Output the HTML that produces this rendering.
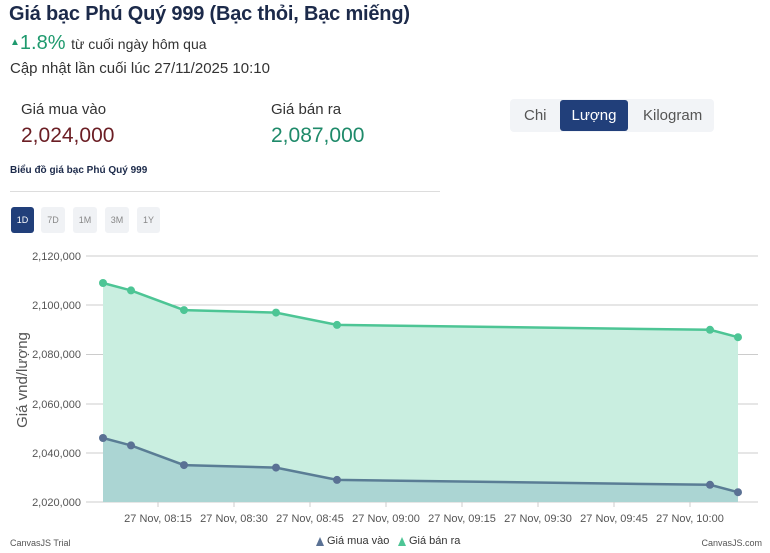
<!DOCTYPE html>
<html><head><meta charset="utf-8"><style>
body{margin:0;width:770px;height:553px;background:#fff;font-family:"Liberation Sans","Noto Sans CJK JP",sans-serif;position:relative;overflow:hidden}
.a{position:absolute;white-space:nowrap}
</style></head><body>
<div class="a" style="left:9px;top:3px;font-size:20px;color:#1c2a4a;font-weight:bold;letter-spacing:-0.2px">Giá bạc Phú Quý 999 (Bạc thỏi, Bạc miếng)</div>
<div class="a" style="left:10px;top:32px;font-size:20px;color:#1f9a6e"><span style="font-size:10px;vertical-align:4px">▲</span>1.8% <span style="font-size:14px;color:#333">từ cuối ngày hôm qua</span></div>
<div class="a" style="left:10px;top:60px;font-size:15px;color:#333">Cập nhật lần cuối lúc 27/11/2025 10:10</div>
<div class="a" style="left:21px;top:101px;font-size:15px;color:#333">Giá mua vào</div>
<div class="a" style="left:21px;top:124px;font-size:21px;color:#6b1e24">2,024,000</div>
<div class="a" style="left:271px;top:101px;font-size:15px;color:#333">Giá bán ra</div>
<div class="a" style="left:271px;top:124px;font-size:21px;color:#1f8a6a">2,087,000</div>
<div class="a" style="left:510px;top:99px;width:204px;height:33px;background:#f2f4f7;border-radius:4px"></div>
<div class="a" style="left:524px;top:107px;font-size:15px;color:#555">Chi</div>
<div class="a" style="left:560px;top:100px;width:68px;height:31px;background:#213f7a;border-radius:3px;color:#fff;font-size:15px;text-align:center;line-height:31px">Lượng</div>
<div class="a" style="left:643px;top:107px;font-size:15px;color:#555">Kilogram</div>
<div class="a" style="left:10px;top:165px;font-size:10px;color:#1c2a4a;font-weight:bold">Biểu đồ giá bạc Phú Quý 999</div>
<div class="a" style="left:10px;top:191px;width:430px;height:1px;background:#ddd"></div>
<div class="a" style="left:11px;top:207px;width:23px;height:26px;background:#213f7a;border-radius:3px;color:#fff;font-size:9px;text-align:center;line-height:26px">1D</div>
<div class="a" style="left:41px;top:207px;width:24px;height:26px;background:#f0f2f5;border-radius:3px;color:#888;font-size:9px;text-align:center;line-height:26px">7D</div>
<div class="a" style="left:73px;top:207px;width:24px;height:26px;background:#f0f2f5;border-radius:3px;color:#888;font-size:9px;text-align:center;line-height:26px">1M</div>
<div class="a" style="left:105px;top:207px;width:24px;height:26px;background:#f0f2f5;border-radius:3px;color:#888;font-size:9px;text-align:center;line-height:26px">3M</div>
<div class="a" style="left:137px;top:207px;width:23px;height:26px;background:#f0f2f5;border-radius:3px;color:#888;font-size:9px;text-align:center;line-height:26px">1Y</div>
<svg class="a" style="left:0;top:0" width="770" height="553" font-family="Liberation Sans Narrow, Liberation Sans, sans-serif">
<g stroke="#ccc" stroke-width="1">
<line x1="86" x2="758" y1="256" y2="256"/><line x1="86" x2="758" y1="305" y2="305"/><line x1="86" x2="758" y1="354.5" y2="354.5"/><line x1="86" x2="758" y1="404" y2="404"/><line x1="86" x2="758" y1="453" y2="453"/><line x1="86" x2="758" y1="502" y2="502"/>
</g>
<g font-size="11" fill="#555" text-anchor="end">
<text x="81" y="260">2,120,000</text><text x="81" y="309">2,100,000</text><text x="81" y="358">2,080,000</text><text x="81" y="408">2,060,000</text><text x="81" y="457">2,040,000</text><text x="81" y="506">2,020,000</text>
</g>
<text transform="translate(27,380) rotate(-90)" text-anchor="middle" font-size="15" fill="#555" font-family="Liberation Sans, sans-serif">Giá vnd/lượng</text>
<polygon points="103,283 131,290.4 184,310.1 276,312.6 337,324.9 710,329.8 738,337.2 738,502 103,502" fill="#c9eee0"/>
<polygon points="103,438 131,445.4 184,465.1 276,467.6 337,479.9 710,484.8 738,492.2 738,502 103,502" fill="#abd5d3"/>
<polyline points="103,283 131,290.4 184,310.1 276,312.6 337,324.9 710,329.8 738,337.2" fill="none" stroke="#4dc595" stroke-width="2.5"/>
<polyline points="103,438 131,445.4 184,465.1 276,467.6 337,479.9 710,484.8 738,492.2" fill="none" stroke="#5a7d95" stroke-width="2.5"/>
<g fill="#4dc595"><circle cx="103" cy="283" r="4"/><circle cx="131" cy="290.4" r="4"/><circle cx="184" cy="310.1" r="4"/><circle cx="276" cy="312.6" r="4"/><circle cx="337" cy="324.9" r="4"/><circle cx="710" cy="329.8" r="4"/><circle cx="738" cy="337.2" r="4"/></g>
<g fill="#5a7194"><circle cx="103" cy="438" r="4"/><circle cx="131" cy="445.4" r="4"/><circle cx="184" cy="465.1" r="4"/><circle cx="276" cy="467.6" r="4"/><circle cx="337" cy="479.9" r="4"/><circle cx="710" cy="484.8" r="4"/><circle cx="738" cy="492.2" r="4"/></g>
<g stroke="#ccc"><line x1="158" x2="158" y1="502" y2="507"/><line x1="234" x2="234" y1="502" y2="507"/><line x1="310" x2="310" y1="502" y2="507"/><line x1="386" x2="386" y1="502" y2="507"/><line x1="462" x2="462" y1="502" y2="507"/><line x1="538" x2="538" y1="502" y2="507"/><line x1="614" x2="614" y1="502" y2="507"/><line x1="690" x2="690" y1="502" y2="507"/></g>
<g font-size="11" fill="#555" text-anchor="middle">
<text x="158" y="522">27 Nov, 08:15</text><text x="234" y="522">27 Nov, 08:30</text><text x="310" y="522">27 Nov, 08:45</text><text x="386" y="522">27 Nov, 09:00</text><text x="462" y="522">27 Nov, 09:15</text><text x="538" y="522">27 Nov, 09:30</text><text x="614" y="522">27 Nov, 09:45</text><text x="690" y="522">27 Nov, 10:00</text>
</g>
<text x="10" y="546" font-size="9" fill="#555">CanvasJS Trial</text>
<text x="762" y="546" font-size="9" fill="#555" text-anchor="end">CanvasJS.com</text>
<polygon points="316,546 320,537 324,546" fill="#5a7194"/>
<text x="327" y="544" font-size="11" fill="#333">Giá mua vào</text>
<polygon points="398,546 402,537 406,546" fill="#4dc595"/>
<text x="409" y="544" font-size="11" fill="#333">Giá bán ra</text>
</svg>
</body></html>
